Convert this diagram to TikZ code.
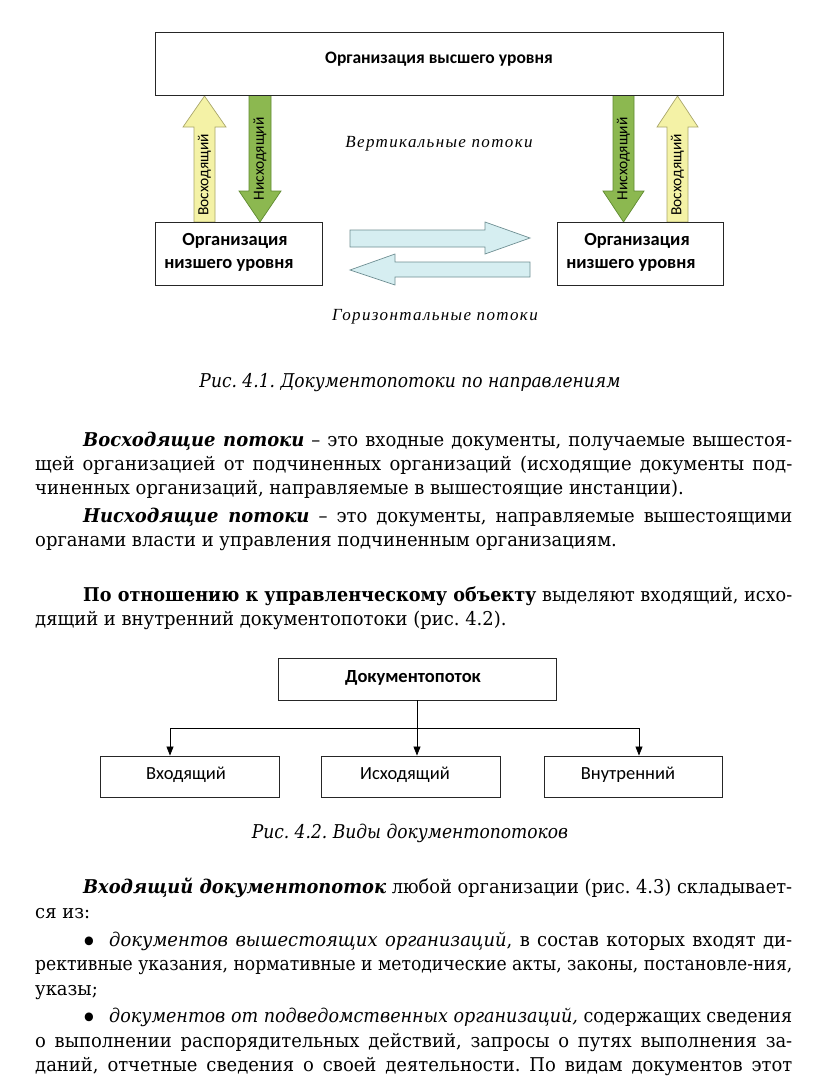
\documentclass[tikz,border=0pt]{standalone}
\usepackage{fontspec}
\usepackage{graphicx}
\setmainfont{DejaVu Serif}[FakeStretch=0.945]
\newfontfamily\captf{DejaVu Serif}[FakeStretch=0.9]
\newfontfamily\carl{Carlito}
\newfontfamily\flowf{Liberation Serif}[LetterSpace=8]
\usetikzlibrary{arrows.meta}
\frenchspacing
\newsavebox\linebox
\newcommand\fitline[2]{\sbox\linebox{#2}\ifdim\wd\linebox>#1\relax\resizebox{#1}{\height}{\usebox\linebox}\else\makebox[#1][s]{#2}\fi}
\definecolor{yel}{HTML}{F4F2A6}
\definecolor{yeldraw}{HTML}{A9A66A}
\definecolor{grn}{HTML}{8CB850}
\definecolor{grndraw}{HTML}{5F8A30}
\definecolor{blu}{HTML}{D6EEF1}
\definecolor{bludraw}{HTML}{6F8F93}
\tikzset{
  box/.style={draw=black!85, line width=0.9pt, fill=white, inner sep=0pt},
  lbl/.style={font=\carl\fontsize{18.5}{20}\selectfont\bfseries, inner sep=0pt},
  lbltop/.style={font=\carl\fontsize{17.5}{20}\selectfont\bfseries, inner sep=0pt},
  lblr/.style={font=\carl\fontsize{18.5}{20}\selectfont, inner sep=0pt},
  vtxt/.style={font=\carl\fontsize{15.5}{16}\selectfont, rotate=90, inner sep=0pt},
  flow/.style={font=\flowf\itshape\fontsize{17}{18}\selectfont, inner sep=0pt},
  yarrow/.style={fill=yel, draw=yeldraw, line width=0.7pt},
  garrow/.style={fill=grn, draw=grndraw, line width=0.7pt},
  barrow/.style={fill=blu, draw=bludraw, line width=0.7pt},
  body/.style={font=\fontsize{19}{22}\selectfont, inner sep=0pt, anchor=base west},
  bul/.style={font=\fontsize{30}{24}\selectfont, inner sep=0pt, anchor=center},
  capt/.style={font=\captf\itshape\fontsize{19}{24}\selectfont, inner sep=0pt, anchor=base},
  conn/.style={draw=black, line width=0.8pt},
  arr/.style={conn, -{Triangle[width=7pt,length=9pt]}}
}
\begin{document}
\begin{tikzpicture}[x=1pt,y=-1pt]
\useasboundingbox[fill=white] (0,0) rectangle (816,1082);

% ---------- Figure 4.1 ----------
% vertical block arrows
\draw[yarrow] (194,222) -- (194,127) -- (183,127) -- (204.5,96) -- (226,127) -- (215,127) -- (215,222) -- cycle;
\draw[garrow] (249,95) -- (271,95) -- (271,191) -- (281,191) -- (260,222) -- (239,191) -- (249,191) -- cycle;
\draw[garrow] (613,95) -- (634,95) -- (634,191) -- (644,191) -- (623.5,222) -- (603,191) -- (613,191) -- cycle;
\draw[yarrow] (667,222) -- (667,127) -- (657,127) -- (677.5,96) -- (698,127) -- (688,127) -- (688,222) -- cycle;
% horizontal block arrows
\draw[barrow] (350,230) -- (485,230) -- (485,222) -- (530,238) -- (485,254) -- (485,247) -- (350,247) -- cycle;
\draw[barrow] (530,262) -- (395,262) -- (395,254) -- (350,270) -- (395,285) -- (395,277) -- (530,277) -- cycle;

\node[box, minimum width=568pt, minimum height=63pt] (top) at (439,63.5) {};
\node[lbltop] (toplbl) at (439,59) {Организация высшего уровня};
\node[box, minimum width=167pt, minimum height=63pt] (lowL) at (238.5,253.5) {};
\node[box, minimum width=166pt, minimum height=63pt] (lowR) at (640.5,253.5) {};
\node[lbl] (lowL1) at (235,241) {Организация};
\node[lbl] (lowL2) at (229,265) {низшего уровня};
\node[lbl] (lowR1) at (637,241) {Организация};
\node[lbl] (lowR2) at (631,265) {низшего уровня};

\node[vtxt] (up1) at (204.5,175) {Восходящий};
\node[vtxt] (dn1) at (260,159) {Нисходящий};
\node[vtxt] (dn2) at (623.5,159) {Нисходящий};
\node[vtxt] (up2) at (677.5,175) {Восходящий};

\node[flow] (vert) at (439,144) {Вертикальные потоки};
\node[flow] (horiz) at (435,317) {Горизонтальные потоки};

\node[capt] (cap1) at (410,387) {Рис. 4.1. Документопотоки по направлениям};

% ---------- Text ----------
\node[body] (l1) at (83,446) {\fitline{709pt}{\textbf{\textit{Восходящие потоки}} – это входные документы, получаемые вышестоя-}};
\node[body] (l2) at (35,470) {\fitline{757pt}{щей организацией от подчиненных организаций (исходящие документы под-}};
\node[body] (l3) at (35,494) {чиненных организаций, направляемые в вышестоящие инстанции).};
\node[body] (l4) at (83,522) {\fitline{709pt}{\textbf{\textit{Нисходящие потоки}} – это документы, направляемые вышестоящими}};
\node[body] (l5) at (35,546) {органами власти и управления подчиненным организациям.};
\node[body] (l6) at (83,601) {\fitline{709pt}{\textbf{По отношению к управленческому объекту} выделяют входящий, исхо-}};
\node[body] (l7) at (35,625) {дящий и внутренний документопотоки (рис. 4.2).};

% ---------- Figure 4.2 ----------
\node[box, minimum width=278pt, minimum height=42pt] (doc) at (417,679) {};
\node[lbl] (doclbl) at (413,678) {Документопоток};
\node[box, minimum width=179pt, minimum height=41pt] (in) at (189.5,776.5) {};
\node[box, minimum width=179pt, minimum height=41pt] (out) at (410.5,776.5) {};
\node[box, minimum width=178pt, minimum height=41pt] (int) at (633,776.5) {};
\node[lblr] (inlbl) at (186,775) {Входящий};
\node[lblr] (outlbl) at (405,775) {Исходящий};
\node[lblr] (intlbl) at (628,775) {Внутренний};
\coordinate (jl) at (170,728);
\coordinate (jr) at (639,728);
\draw[conn] (jl) -- (jr);
\draw[arr] (jl) -- (jl |- in.north);
\draw[arr] (doc.south) -- (doc.south |- out.north);
\draw[arr] (jr) -- (jr |- int.north);

\node[capt] (cap2) at (410,838) {Рис. 4.2. Виды документопотоков};

% ---------- Text ----------
\node[body] (l8) at (83,893) {\fitline{709pt}{\textbf{\textit{Входящий документопоток}} любой организации (рис. 4.3) складывает-}};
\node[body] (l9) at (35,918) {ся из:};
\node[bul] (b1) at (89,945) {•};
\node[body] (l10) at (109,946) {\fitline{683pt}{\textit{документов вышестоящих организаций}, в состав которых входят ди-}};
\node[body] (l11) at (35,970) {\fitline{757pt}{рективные указания, нормативные и методические акты, законы, постановле-ния,}};
\node[body] (l12) at (35,995) {указы;};
\node[bul] (b2) at (89,1021) {•};
\node[body] (l13) at (109,1022) {\fitline{683pt}{\textit{документов от подведомственных организаций,} содержащих сведения}};
\node[body] (l14) at (35,1047) {\fitline{757pt}{о выполнении распорядительных действий, запросы о путях выполнения за-}};
\node[body] (l15) at (35,1071) {\fitline{757pt}{даний, отчетные сведения о своей деятельности. По видам документов этот}};
\end{tikzpicture}
\end{document}
